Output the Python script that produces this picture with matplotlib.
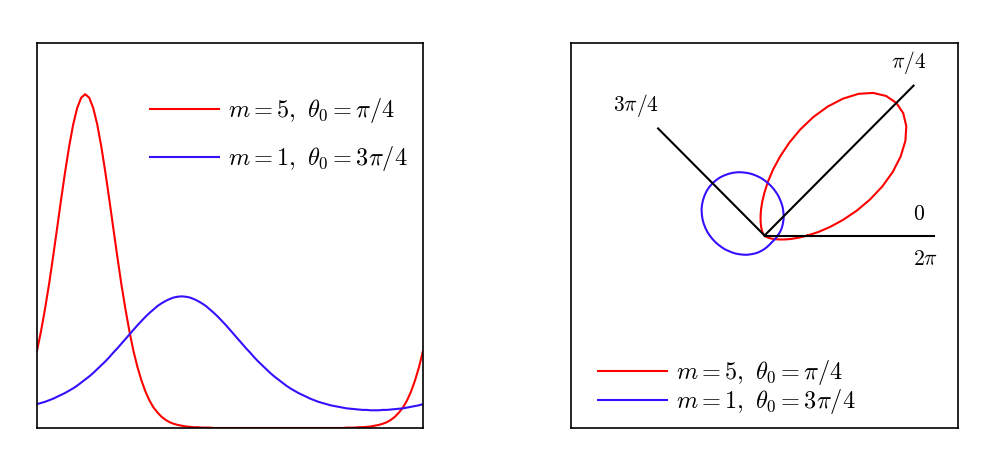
import numpy as np
import matplotlib
matplotlib.use("Agg")
import matplotlib.pyplot as plt

plt.rcParams['mathtext.fontset'] = 'cm'
plt.rcParams['font.family'] = ['DejaVu Sans']

# angle grid, 0 .. 2pi in steps of 3.75 degrees (97 points)
theta = np.linspace(0, 2 * np.pi, 97)

# density (m = 5, theta0 = pi/4)
red_vals = [0.200, 0.251, 0.309, 0.373, 0.444, 0.518, 0.593, 0.665, 0.731,
            0.788, 0.831, 0.858, 0.867,
            0.858, 0.831, 0.788, 0.731, 0.665, 0.593, 0.518, 0.444, 0.373,
            0.309, 0.251, 0.200, 0.158, 0.123, 0.094, 0.071, 0.053, 0.040,
            0.029, 0.021, 0.015, 0.011, 0.008, 0.006, 0.004, 0.003, 0.002,
            0.002, 0.001, 0.001, 0.001] + [0.000] * 33 + \
           [0.001, 0.001, 0.001, 0.002, 0.002, 0.003, 0.004, 0.006, 0.008,
            0.011, 0.015, 0.021, 0.029, 0.040, 0.053, 0.071, 0.094, 0.123,
            0.158, 0.200]

# density (m = 1, theta0 = 3pi/4)
blue_vals = [0.062, 0.065, 0.068, 0.072, 0.076, 0.081, 0.086, 0.091, 0.097,
             0.103, 0.110, 0.118, 0.126, 0.134, 0.143, 0.153, 0.163, 0.173,
             0.184, 0.196, 0.207, 0.219, 0.231, 0.243, 0.255, 0.267, 0.278,
             0.289, 0.299, 0.308, 0.317, 0.324, 0.330, 0.335, 0.339, 0.341,
             0.342,
             0.341, 0.339, 0.335, 0.330, 0.324, 0.317, 0.308, 0.299, 0.289,
             0.278, 0.267, 0.255, 0.243, 0.231, 0.219, 0.207, 0.196, 0.184,
             0.173, 0.163, 0.153, 0.143, 0.134, 0.126, 0.118, 0.110, 0.103,
             0.097, 0.091, 0.086, 0.081, 0.076, 0.072, 0.068, 0.065, 0.062,
             0.059, 0.057, 0.055, 0.053, 0.051, 0.050, 0.049, 0.048, 0.047,
             0.047, 0.046, 0.046,
             0.046, 0.047, 0.047, 0.048, 0.049, 0.050, 0.051, 0.053, 0.055,
             0.057, 0.059, 0.062]

labels = [r'$m = 5,\ \theta_0 = \pi/4$', r'$m = 1,\ \theta_0 = 3\pi/4$']
colors = ['#ff0000', '#3311ff']

# reference rays on the right panel: angle, length
ray_angles = [0, np.pi / 4, 3 * np.pi / 4]
ray_lengths = [0.79, 0.98, 0.70]
ray_texts = [r'$0$', r'$2\pi$', r'$\pi/4$', r'$3\pi/4$']
ray_text_pos = [(0.72, 0.10), (0.75, -0.11), (0.67, 0.80), (-0.60, 0.60)]

fig = plt.figure(figsize=(9.96, 4.51), dpi=100)
ax1 = fig.add_axes([0.0371, 0.051, 0.3876, 0.8536])
ax2 = fig.add_axes([0.5733, 0.051, 0.3886, 0.8536])

ax1.plot(theta, red_vals, color=colors[0], lw=1.5, label=labels[0])
ax1.plot(theta, blue_vals, color=colors[1], lw=1.5, label=labels[1])
ax1.set_xlim(0, 2 * np.pi)
ax1.set_ylim(0, 1)
ax1.legend(loc='upper left', bbox_to_anchor=(0.293, 0.862), frameon=False,
           fontsize=17.5, handlelength=2.84, labelspacing=0.79,
           handletextpad=0.37, borderpad=0, borderaxespad=0)

for vals, c, lab in zip([red_vals, blue_vals], colors, labels):
    r = np.array(vals)
    ax2.plot(r * np.cos(theta), r * np.sin(theta), color=c, lw=1.5, label=lab)
for a, L in zip(ray_angles, ray_lengths):
    ax2.plot([0, L * np.cos(a)], [0, L * np.sin(a)], color='black', lw=1.5)
for t, (x, y) in zip(ray_texts, ray_text_pos):
    ax2.text(x, y, t, fontsize=15.5, ha='center', va='center')
ax2.set_xlim(-0.9, 0.9)
ax2.set_ylim(-0.89, 0.89)
ax2.legend(loc='lower left', bbox_to_anchor=(0.07, 0.031), frameon=False,
           fontsize=17.5, handlelength=2.84, labelspacing=0.0,
           handletextpad=0.37, borderpad=0, borderaxespad=0)

for ax in (ax1, ax2):
    ax.set_xticks([])
    ax.set_yticks([])
    for s in ax.spines.values():
        s.set_linewidth(1.2)

fig.savefig('out.png', dpi=100)
